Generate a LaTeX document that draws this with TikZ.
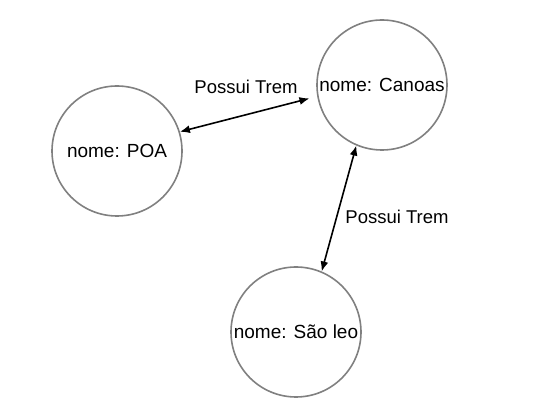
\documentclass[tikz,border=0pt]{standalone}
\usepackage{fontspec}
\setmainfont{Liberation Sans}
\usetikzlibrary{arrows.meta, positioning}

\begin{document}
\begin{tikzpicture}[x=1pt, y=-1pt, thick,
  city/.style={circle, draw=black!50, line width=1.6pt, minimum size=130pt, inner sep=0pt, font=\fontsize{19}{22}\selectfont},
  rel/.style={font=\fontsize{18.5}{22}\selectfont},
  link/.style={{Latex[length=10pt,width=8pt]}-{Latex[length=10pt,width=8pt]}, line width=1.6pt}]
  \useasboundingbox (0,0) rectangle (555,419);
  \node[city] (poa) at (117,151) {nome: POA};
  \node[city] (canoas) at (382,85) {nome: Canoas};
  \node[city] (saoleo) at (296,332) {nome: São leo};
  % relations
  \draw[link, shorten >=8pt] (poa.17) -- (canoas.190);
  \draw[link] (canoas.247) -- (saoleo.67);
  \node[rel] (trem1) at (246,87) {Possui Trem};
  \node[rel] (trem2) at (397,217) {Possui Trem};
\end{tikzpicture}
\end{document}
